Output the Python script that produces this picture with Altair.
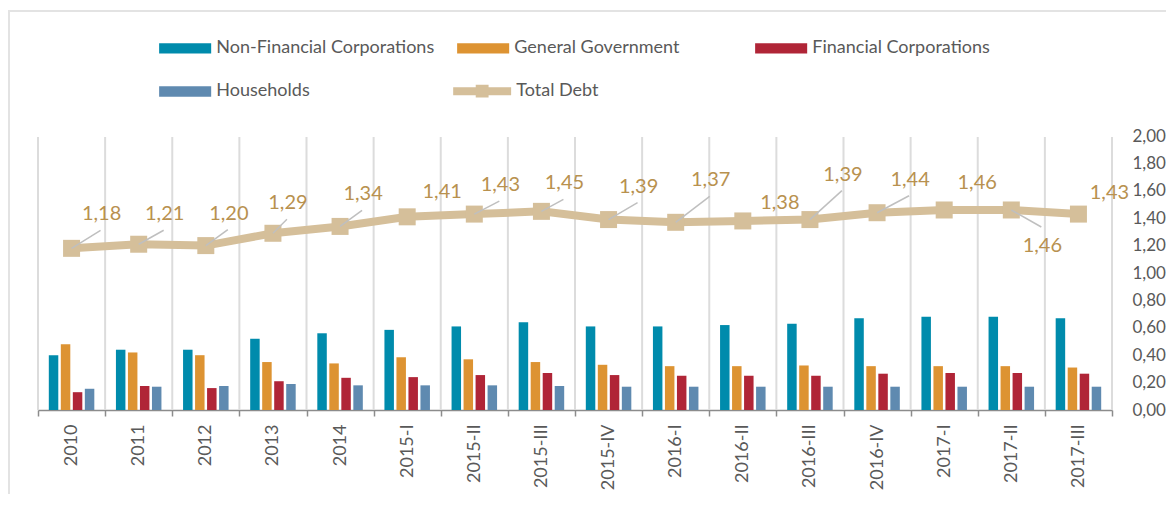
import altair as alt
import pandas as pd

# ---------------- data ----------------
categories = ["2010", "2011", "2012", "2013", "2014", "2015-I", "2015-II", "2015-III",
              "2015-IV", "2016-I", "2016-II", "2016-III", "2016-IV", "2017-I", "2017-II", "2017-III"]
series_names = ["Non-Financial Corporations", "General Government", "Financial Corporations", "Households"]
nfc = [0.40, 0.44, 0.44, 0.52, 0.56, 0.585, 0.61, 0.64, 0.61, 0.61, 0.62, 0.63, 0.67, 0.68, 0.68, 0.67]
gg = [0.48, 0.42, 0.40, 0.35, 0.34, 0.385, 0.37, 0.35, 0.33, 0.32, 0.32, 0.325, 0.32, 0.32, 0.32, 0.31]
fc = [0.13, 0.175, 0.16, 0.21, 0.235, 0.24, 0.255, 0.27, 0.255, 0.25, 0.25, 0.25, 0.265, 0.27, 0.27, 0.265]
hh = [0.155, 0.17, 0.175, 0.19, 0.18, 0.18, 0.18, 0.175, 0.17, 0.17, 0.17, 0.17, 0.17, 0.17, 0.17, 0.17]
total_debt = [1.18, 1.21, 1.20, 1.29, 1.34, 1.41, 1.43, 1.45, 1.39, 1.37, 1.38, 1.39, 1.44, 1.46, 1.46, 1.43]
y_ticks = [0.0, 0.2, 0.4, 0.6, 0.8, 1.0, 1.2, 1.4, 1.6, 1.8, 2.0]

# ---------------- layout / style ----------------
W, H = 1074, 274
PX_X = W / len(categories)
PX_Y = H / 2.0
# label placement (pixels, relative to point) and leader-line flags
label_dx = [30, 26, 23, 15, 23, 35, 26, 23, 30, 35, 37, 33, 33, 33, 31, 31]
label_dy = [-34, -30, -32, -30, -32, -25, -29, -28, -33, -42, -18, -45, -33, -27, 36, -21]
leader = [1, 1, 1, 1, 1, 0, 1, 1, 1, 1, 0, 1, 1, 0, 1, 0]

colors = ["#008bac", "#dd9332", "#b02537", "#5f8ab0"]
tan = "#d5bf9a"
label_gold = "#b8914f"
text_grey = "#595959"
FONT = "Lato"

rows = []
for s, vals in zip(series_names, [nfc, gg, fc, hh]):
    for c, v in zip(categories, vals):
        rows.append({"category": c, "series": s, "value": v})
bars_df = pd.DataFrame(rows)

line_rows = []
for i, (c, v) in enumerate(zip(categories, total_debt)):
    lx = i + label_dx[i] / PX_X
    ly = v - label_dy[i] / PX_Y
    ex_px = label_dx[i] - 1
    ey_px = label_dy[i] + 16 if label_dy[i] < 0 else label_dy[i] - 19
    line_rows.append({
        "idx": i, "category": c, "value": v, "name": "Total Debt",
        "label": f"{v:.2f}".replace(".", ","),
        "lx": lx, "ly": ly,
        "ex": i + ex_px / PX_X, "ey": v - ey_px / PX_Y,
        "leader": leader[i],
    })
line_df = pd.DataFrame(line_rows)

# category boundaries for the vertical gridlines
grid_df = pd.DataFrame({"b": [i - 0.5 for i in range(len(categories) + 1)]})

y_scale = alt.Scale(domain=[0, 2], nice=False, zero=True)
y_axis = alt.Axis(orient="right", values=y_ticks, title=None, domain=False, ticks=False, grid=False,
                  labelExpr="replace(format(datum.value, '.2f'), '.', ',')",
                  labelFont=FONT, labelFontSize=17, labelColor=text_grey, labelPadding=20)
xq_scale = alt.Scale(domain=[-0.5, len(categories) - 0.5], nice=False, zero=False)

# chart-area frame (top and left edges)
frame_top = alt.Chart(alt.Data(values=[{}])).mark_rule(color="#e3e3e3", strokeWidth=2).encode(
    x=alt.value(-30), x2=alt.value(1300), y=alt.value(-125))
frame_left = alt.Chart(alt.Data(values=[{}])).mark_rule(color="#e3e3e3", strokeWidth=2).encode(
    x=alt.value(-29), y=alt.value(-126), y2=alt.value(700))

gridlines = alt.Chart(grid_df).mark_rule(color="#dcdcdc", strokeWidth=2).encode(
    x=alt.X("b:Q", scale=xq_scale, axis=None),
    y=alt.value(0), y2=alt.value(H),
)

bar_symbol = "M-1.5,-0.3H1.5V0.3H-1.5Z"
bars = alt.Chart(bars_df).mark_bar().encode(
    x=alt.X("category:N", sort=categories,
            scale=alt.Scale(paddingInner=0, paddingOuter=0),
            axis=alt.Axis(title=None, orient="bottom", labelAngle=-90, tickBand="extent", grid=False,
                          domain=True, domainColor="#8c8c8c", domainWidth=1.5, tickColor="#8c8c8c",
                          tickWidth=1.5, tickSize=6, labelPadding=8,
                          labelFont=FONT, labelFontSize=18, labelColor=text_grey)),
    xOffset=alt.XOffset("series:N", sort=series_names,
                        scale=alt.Scale(paddingInner=0.21, paddingOuter=0.9)),
    y=alt.Y("value:Q", scale=y_scale, axis=y_axis),
    color=alt.Color("series:N", sort=series_names,
                    scale=alt.Scale(domain=series_names, range=colors),
                    legend=alt.Legend(title=None, orient="none", legendX=129.65, legendY=-105.35,
                                      direction="horizontal", columns=3, gridAlign="all",
                                      columnPadding=22, rowPadding=16.3, padding=0,
                                      symbolType=bar_symbol, symbolSize=1204,
                                      symbolStrokeWidth=0, labelOffset=13.65,
                                      labelFont=FONT, labelFontSize=18, labelColor=text_grey,
                                      labelLimit=400)),
)

line = alt.Chart(line_df).mark_line(color=tan, strokeWidth=8).encode(
    x=alt.X("idx:Q", scale=xq_scale, axis=None),
    y=alt.Y("value:Q", scale=y_scale, axis=y_axis),
)

td_symbol = "M-1.67,-0.23H1.67V0.23H-1.67Z M-0.37,-0.37H0.37V0.37H-0.37Z"
points = alt.Chart(line_df).mark_point(shape="square", filled=True, size=289, opacity=1).encode(
    x=alt.X("idx:Q", scale=xq_scale, axis=None),
    y=alt.Y("value:Q", scale=y_scale, axis=y_axis),
    fill=alt.Fill("name:N", scale=alt.Scale(domain=["Total Debt"], range=[tan]),
                  legend=alt.Legend(title=None, orient="none", legendX=426.65, legendY=-62.35,
                                    padding=0, symbolType=td_symbol, symbolSize=1204,
                                    symbolStrokeWidth=0, labelOffset=16.65,
                                    labelFont=FONT, labelFontSize=18, labelColor=text_grey)),
)

leaders = alt.Chart(line_df).transform_filter("datum.leader == 1").mark_rule(
    color="#bfbfbf", strokeWidth=1.5
).encode(
    x=alt.X("idx:Q", scale=xq_scale, axis=None),
    x2="ex:Q",
    y=alt.Y("value:Q", scale=y_scale, axis=y_axis),
    y2="ey:Q",
)

labels = alt.Chart(line_df).mark_text(
    font=FONT, fontSize=20, color=label_gold, align="center", baseline="middle"
).encode(
    x=alt.X("lx:Q", scale=xq_scale, axis=None),
    y=alt.Y("ly:Q", scale=y_scale, axis=y_axis),
    text="label:N",
)

# white strip along the very top edge of the plot, drawn last
top_cover = alt.Chart(alt.Data(values=[{}])).mark_rule(color="white", strokeWidth=4).encode(
    x=alt.value(-3), x2=alt.value(W + 4), y=alt.value(-1))

chart = alt.layer(frame_top, frame_left, gridlines, bars, line, points, leaders, labels,
                  top_cover).resolve_scale(
    x="independent"
).properties(
    width=W, height=H,
    autosize=alt.AutoSizeParams(type="none"),
    padding={"left": 30, "top": 128, "right": 54, "bottom": 84},
).configure_view(stroke="transparent", strokeWidth=0, strokeOpacity=0).configure(
    background="white", style={"cell": {"stroke": "transparent", "strokeWidth": 0}}
).configure_axisY(grid=False, domain=False).configure_axisX(
    grid=False, domain=False
).configure_axisTop(
    domain=False, grid=False, ticks=False, labels=False
)

chart.save("out.html", embed_options={"renderer": "svg", "actions": False})
